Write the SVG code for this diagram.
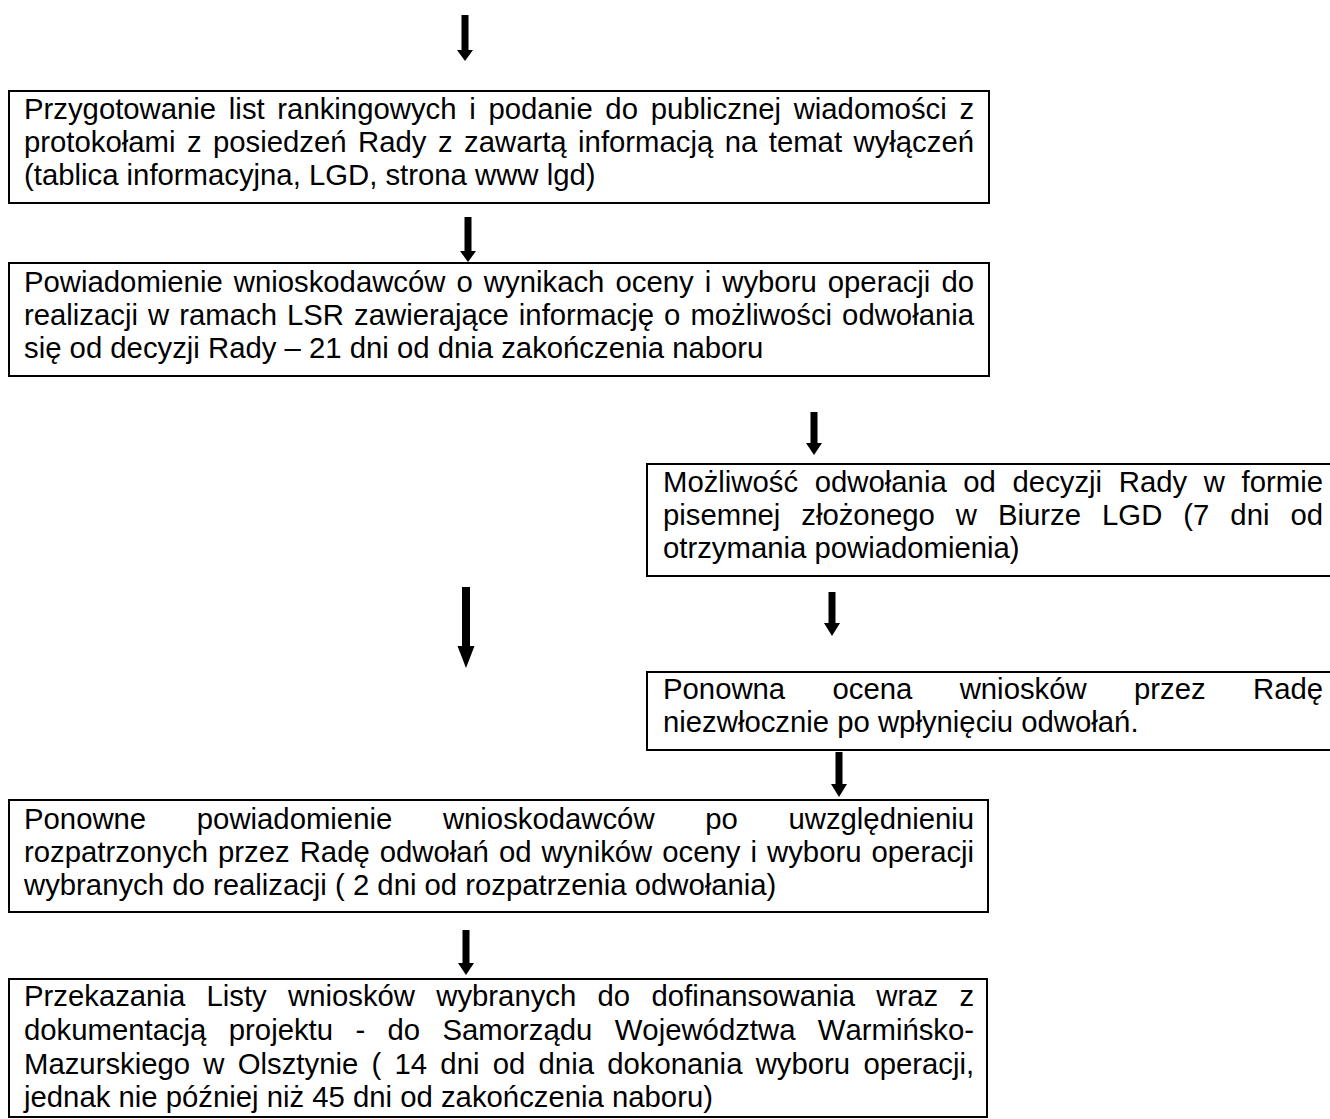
<svg xmlns="http://www.w3.org/2000/svg" width="1330" height="1119" viewBox="0 0 1330 1119">
<style>
.box{fill:#fff;stroke:#000;stroke-width:2}
.t{font-family:"Liberation Sans",Arial,sans-serif;font-size:29.3px;fill:#000;font-kerning:none}
.arr{fill:#000;stroke:none}
</style>
<rect width="1330" height="1119" fill="#fff"/>
<g id="connectors">
<path class="arr" d="M461.5,15 H468.5 V50 H473 L465,61 L457,50 H461.5 Z"/>
<path class="arr" d="M464.5,217 H471.5 V251 H476 L468,262 L460,251 H464.5 Z"/>
<path class="arr" d="M810.5,412 H817.5 V443 H822 L814,455 L806,443 H810.5 Z"/>
<path class="arr" d="M462,587 H470 V646 H474.5 L466,668 L457.5,646 H462 Z"/>
<path class="arr" d="M828.5,592 H835.5 V623 H840 L832,636 L824,623 H828.5 Z"/>
<path class="arr" d="M835.5,752 H842.5 V784 H847 L839,797 L831,784 H835.5 Z"/>
<path class="arr" d="M462.5,930 H469.5 V963 H474 L466,975 L458,963 H462.5 Z"/>
</g>
<g id="node1">
<rect class="box" x="9" y="91" width="980" height="112"/>
<text class="t" x="24" y="119" style="word-spacing:4.56px">Przygotowanie list rankingowych i podanie do publicznej wiadomości z</text>
<text class="t" x="24" y="152" style="word-spacing:3.33px">protokołami z posiedzeń Rady z zawartą informacją na temat wyłączeń</text>
<text class="t" x="24" y="185">(tablica informacyjna, LGD, strona www lgd)</text>
</g>
<g id="node2">
<rect class="box" x="9" y="263" width="980" height="113"/>
<text class="t" x="24" y="292" style="word-spacing:2.93px">Powiadomienie wnioskodawców o wynikach oceny i wyboru operacji do</text>
<text class="t" x="24" y="325" style="word-spacing:1.93px">realizacji w ramach LSR zawierające informację o możliwości odwołania</text>
<text class="t" x="24" y="358">się od decyzji Rady – 21 dni od dnia zakończenia naboru</text>
</g>
<g id="node3">
<rect class="box" x="647" y="464" width="700" height="112"/>
<text class="t" x="663" y="492" style="word-spacing:8.5px">Możliwość odwołania od decyzji Rady w formie</text>
<text class="t" x="663" y="525" style="word-spacing:12.87px">pisemnej złożonego w Biurze LGD (7 dni od</text>
<text class="t" x="663" y="558">otrzymania powiadomienia)</text>
</g>
<g id="node4">
<rect class="box" x="647" y="672" width="700" height="78"/>
<text class="t" x="663" y="699" style="word-spacing:39.2px">Ponowna ocena wniosków przez Radę</text>
<text class="t" x="663" y="732">niezwłocznie po wpłynięciu odwołań.</text>
</g>
<g id="node5">
<rect class="box" x="9" y="800" width="979" height="112"/>
<text class="t" x="24" y="829" style="word-spacing:42.5px">Ponowne powiadomienie wnioskodawców po uwzględnieniu</text>
<text class="t" x="24" y="862" style="word-spacing:1.89px">rozpatrzonych przez Radę odwołań od wyników oceny i wyboru operacji</text>
<text class="t" x="24" y="895">wybranych do realizacji ( 2 dni od rozpatrzenia odwołania)</text>
</g>
<g id="node6">
<rect class="box" x="9" y="979" width="978" height="138"/>
<text class="t" x="24" y="1006" style="word-spacing:13.13px">Przekazania Listy wniosków wybranych do dofinansowania wraz z</text>
<text class="t" x="24" y="1040" style="word-spacing:14.24px">dokumentacją projektu - do Samorządu Województwa Warmińsko-</text>
<text class="t" x="24" y="1074" style="word-spacing:5.12px">Mazurskiego w Olsztynie ( 14 dni od dnia dokonania wyboru operacji,</text>
<text class="t" x="24" y="1107">jednak nie później niż 45 dni od zakończenia naboru)</text>
</g>
</svg>
